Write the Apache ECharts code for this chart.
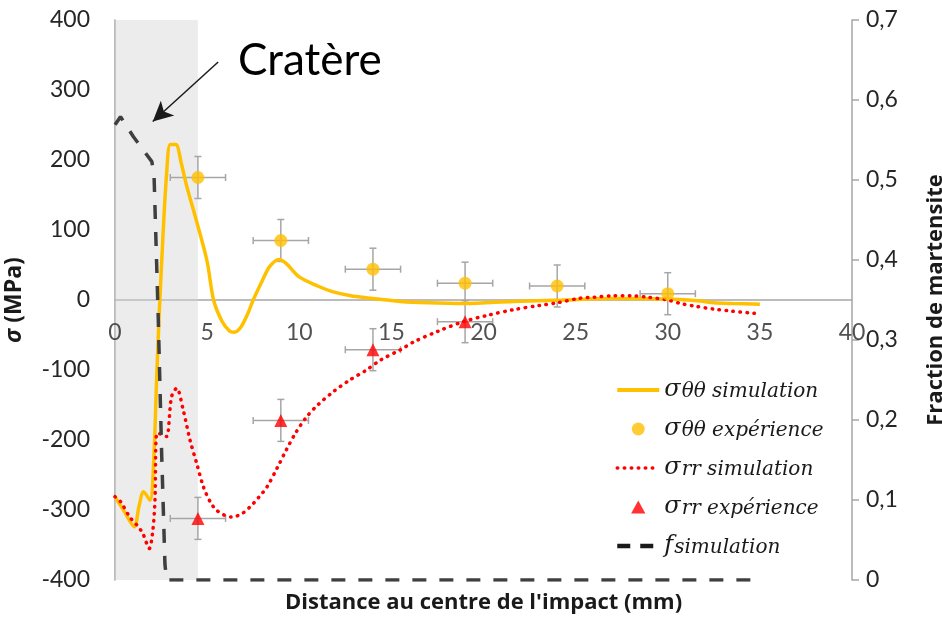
<!DOCTYPE html>
<html>
<head>
<meta charset="utf-8">
<script src="https://cdn.jsdelivr.net/npm/echarts@6/dist/echarts.min.js"></script>
<style>
  html, body { margin: 0; padding: 0; background: #fff; }
  #chart { width: 942px; height: 617px; }
</style>
</head>
<body>
<div id="chart"></div>
<script>
// Hoop stress simulation (MPa) along the distance from the impact centre (mm)
const sttSimX = [0, 0.5, 1.05, 1.3, 1.55, 1.9, 2.1, 2.25, 2.4, 2.6, 2.8, 3.0, 3.3, 3.6, 3.9, 4.4, 5.0, 5.35, 5.8, 6.2, 6.45, 6.8, 7.2, 7.5, 8.0, 8.4, 8.9, 9.3, 10.0, 11.0, 11.8, 12.8, 13.7, 15.5, 17, 19, 21.6, 24.3, 27, 29.8, 31.6, 32.5, 33.5, 35];
const sttSimY = [-281, -302, -324, -295, -274, -286, -230, -120, -20, 90, 180, 222, 222, 195, 162, 115, 55, 0, -30, -44, -46, -40, -20, 0, 28, 48, 58, 52, 33, 20, 12, 6, 3, -2, -4, -5, -2, 0, 2, 1.5, -1, -4, -5, -6];

// Hoop stress measurements with their uncertainties
const sttExpX = [4.5, 9, 14, 19, 24, 30];
const sttExpY = [175, 85, 44, 24, 20, 9];
const sttExpErrX = [1.5, 1.5, 1.5, 1.5, 1.5, 1.5];
const sttExpErrY = [30, 30, 30, 30, 30, 30];

// Radial stress simulation (MPa)
const srrSimX = [0, 0.3, 0.8, 1.2, 1.5, 1.86, 2.05, 2.17, 2.28, 2.55, 2.8, 3.07, 3.35, 3.7, 4.07, 4.43, 4.8, 5.2, 5.5, 5.9, 6.35, 6.9, 7.35, 7.8, 8.25, 8.8, 9.3, 9.8, 10.4, 11.0, 11.85, 12.7, 13.65, 14.4, 15.5, 16.2, 17.5, 18.9, 20.2, 21.6, 23, 24, 25.2, 26, 27, 28, 28.9, 30, 30.7, 31.5, 32.5, 33.5, 34.7];
const srrSimY = [-281, -288, -310, -322, -333, -355, -330, -286, -190, -192, -195, -138, -126, -157, -200, -233, -267, -290, -300, -307, -310, -305, -295, -282, -267, -240, -214, -190, -167, -150, -131, -115, -100, -86, -71, -60, -45, -31, -22, -14, -8, -4, 2.4, 4, 6, 6, 4, 0, -5, -9, -13, -16, -19];

// Radial stress measurements with their uncertainties
const srrExpX = [4.5, 9, 14, 19];
const srrExpY = [-312, -172, -71, -31];
const srrExpErrX = [1.5, 1.5, 1.5, 1.5];
const srrExpErrY = [30, 30, 30, 30];

// Martensite fraction simulation (right axis)
const fSimX = [0, 0.3, 1.0, 2.0, 2.12, 2.35, 2.53, 2.71, 2.8, 35];
const fSimY = [0.569, 0.579, 0.554, 0.523, 0.505, 0.325, 0.16, 0.02, 0, 0];

// Crater zone along the distance axis
const craterFrom = 0;
const craterTo = 4.5;

// Axis ticks
const stressMin = -400, stressMax = 400, stressStep = 100;
const fracMin = 0, fracMax = 0.7, fracStep = 0.1;
const distMin = 0, distMax = 40, distStep = 5;
const distTicks = [0, 5, 10, 15, 20, 25, 30, 35, 40];

const names = ['σθθ simulation', 'σθθ expérience', 'σrr simulation', 'σrr expérience', 'f simulation'];

const ORANGE = '#FFC000';
const RED = '#FF0000';
const BAR = '#A6A6A6';
const FONT = 'Lato';
const TITLE_FONT = 'Open Sans';
const NONE = 'rgba(0,0,0,0)';

const zip = (xs, ys) => xs.map((x, i) => [x, ys[i]]);
const zipErr = (xs, ys, ex, ey) => xs.map((x, i) => [x, ys[i], ex[i], ey[i]]);

function errorBars(api) {
  const x = api.value(0), y = api.value(1), ex = api.value(2), ey = api.value(3);
  const c = api.coord([x, y]);
  const l = api.coord([x - ex, y]);
  const r = api.coord([x + ex, y]);
  const t = api.coord([x, y + ey]);
  const b = api.coord([x, y - ey]);
  const cap = 3.5;
  const style = { stroke: BAR, lineWidth: 1.5 };
  const seg = (x1, y1, x2, y2) => ({ type: 'line', shape: { x1, y1, x2, y2 }, style });
  return {
    type: 'group',
    children: [
      seg(l[0], c[1], r[0], c[1]),
      seg(l[0], c[1] - cap, l[0], c[1] + cap),
      seg(r[0], c[1] - cap, r[0], c[1] + cap),
      seg(c[0], t[1], c[0], b[1]),
      seg(c[0] - cap, t[1], c[0] + cap, t[1]),
      seg(c[0] - cap, b[1], c[0] + cap, b[1])
    ]
  };
}

const legendText = {
  'σθθ simulation': '{s|σ}{sub|θθ simulation}',
  'σθθ expérience': '{s|σ}{sub|θθ expérience}',
  'σrr simulation': '{s|σ}{sub|rr simulation}',
  'σrr expérience': '{s|σ}{sub|rr expérience}',
  'f simulation': '{s|f}{sub|simulation}'
};

const chart = echarts.init(document.getElementById('chart'), null, { renderer: 'canvas' });

chart.setOption({
  animation: false,
  backgroundColor: '#fff',
  textStyle: { fontFamily: FONT },
  grid: { left: 115, right: 90, top: 20, bottom: 37, containLabel: false, outerBoundsMode: 'none' },
  xAxis: {
    type: 'value', min: distMin, max: distMax, interval: distStep,
    axisLine: { onZero: true, onZeroAxisIndex: 0, lineStyle: { color: BAR, width: 1.5 } },
    axisTick: { show: false },
    splitLine: { show: false },
    // tick labels are drawn along the zero line by the 'distance ticks' series
    axisLabel: { show: false }
  },
  yAxis: [
    {
      type: 'value', min: stressMin, max: stressMax, interval: stressStep,
      axisLine: { show: true, onZero: false, lineStyle: { color: BAR, width: 1.5 } },
      axisTick: { show: false },
      splitLine: { show: false },
      axisLabel: { fontSize: 23, color: '#262626', margin: 25, fontFamily: FONT },
      name: '{i|σ} (MPa)',
      nameLocation: 'middle',
      nameRotate: 90,
      nameGap: 89,
      nameTextStyle: {
        fontSize: 23, fontWeight: 'bold', color: '#1a1a1a', fontFamily: TITLE_FONT,
        rich: { i: { fontSize: 23, fontWeight: 'bold', fontStyle: 'italic', color: '#1a1a1a', fontFamily: TITLE_FONT } }
      }
    },
    {
      type: 'value', min: fracMin, max: fracMax, interval: fracStep, position: 'right',
      axisLine: { show: true, onZero: false, lineStyle: { color: BAR, width: 1.5 } },
      axisTick: { show: true, length: 7, lineStyle: { color: BAR, width: 1.5 } },
      splitLine: { show: false },
      axisLabel: {
        fontSize: 23, color: '#262626', margin: 14, fontFamily: FONT,
        formatter: v => (Math.round(v * 10) / 10).toString().replace('.', ',')
      },
      name: 'Fraction de martensite',
      nameLocation: 'middle',
      nameRotate: 90,
      nameGap: 73,
      nameTextStyle: { fontSize: 22, fontWeight: 'bold', color: '#1a1a1a', fontFamily: TITLE_FONT }
    }
  ],
  legend: {
    orient: 'vertical',
    left: 610, top: 371,
    itemWidth: 42, itemHeight: 13, itemGap: 13,
    data: [
      { name: names[0], itemStyle: { color: NONE, borderWidth: 0 }, lineStyle: { color: ORANGE, width: 4, type: 'solid' } },
      { name: names[1] },
      { name: names[2], itemStyle: { color: NONE, borderWidth: 0 }, lineStyle: { color: RED, width: 3.5, type: [0.5, 6.5], cap: 'round' } },
      { name: names[3], icon: 'path://M0,10L5.5,0L11,10Z' },
      { name: names[4], itemStyle: { color: NONE, borderWidth: 0 }, lineStyle: { color: '#1a1a1a', width: 4.5, type: [13, 10] } }
    ],
    formatter: n => legendText[n],
    textStyle: {
      color: '#1a1a1a',
      rich: {
        s: { fontFamily: 'DejaVu Serif', fontStyle: 'italic', fontSize: 24, lineHeight: 24, verticalAlign: 'bottom', color: '#1a1a1a' },
        sub: { fontFamily: 'DejaVu Serif', fontStyle: 'italic', fontSize: 20, lineHeight: 24, verticalAlign: 'bottom', padding: [6, 0, 0, 1], color: '#1a1a1a' }
      }
    }
  },
  graphic: [
    {
      type: 'text', left: 238, top: 39, silent: true,
      style: { text: 'Cratère', fontSize: 44, fontFamily: FONT, fill: '#000' }
    },
    {
      type: 'text', left: 285, top: 592, silent: true,
      style: { text: "Distance au centre de l'impact (mm)", fontSize: 22, fontWeight: 'bold', fontFamily: TITLE_FONT, fill: '#1a1a1a' }
    }
  ],
  series: [
    {
      name: 'errθθ', type: 'custom', renderItem: (p, api) => errorBars(api),
      data: zipErr(sttExpX, sttExpY, sttExpErrX, sttExpErrY),
      encode: { x: 0, y: 1 }, z: 2, silent: true
    },
    {
      name: 'errrr', type: 'custom', renderItem: (p, api) => errorBars(api),
      data: zipErr(srrExpX, srrExpY, srrExpErrX, srrExpErrY),
      encode: { x: 0, y: 1 }, z: 2, silent: true
    },
    {
      name: names[0], type: 'line', data: zip(sttSimX, sttSimY),
      smooth: 0.3, showSymbol: false, symbol: 'none', z: 3,
      lineStyle: { color: ORANGE, width: 3.5 }, itemStyle: { color: ORANGE }
    },
    {
      name: names[2], type: 'line', data: zip(srrSimX, srrSimY),
      smooth: 0.3, showSymbol: false, symbol: 'none', z: 3,
      lineStyle: { color: RED, width: 3.5, type: [0.5, 6.5], cap: 'round' }, itemStyle: { color: RED }
    },
    {
      name: names[4], type: 'line', yAxisIndex: 1, data: zip(fSimX, fSimY),
      showSymbol: false, symbol: 'none', z: 3,
      lineStyle: { color: '#3f3f3f', width: 3.5, type: [14, 13] }, itemStyle: { color: '#1a1a1a' }
    },
    {
      name: names[1], type: 'scatter', data: zip(sttExpX, sttExpY),
      symbol: 'circle', symbolSize: 13, z: 4, itemStyle: { color: ORANGE }
    },
    {
      name: names[3], type: 'scatter', data: zip(srrExpX, srrExpY),
      symbol: 'triangle', symbolSize: 13, z: 4, itemStyle: { color: RED }
    },
    {
      // translucent shading over the crater zone
      name: 'crater', type: 'line', data: [], z: 10, silent: true,
      markArea: {
        silent: true,
        itemStyle: { color: 'rgba(212,212,212,0.45)' },
        data: [[{ xAxis: craterFrom, yAxis: stressMin }, { xAxis: craterTo, yAxis: stressMax }]]
      }
    },
    {
      // arrow pointing to the crater
      name: 'arrow', type: 'line', data: [], z: 11, silent: true,
      markLine: {
        silent: true, symbol: ['none', 'arrow'], symbolSize: [15, 20],
        label: { show: false },
        lineStyle: { color: '#1a1a1a', width: 1.5, type: 'solid' },
        data: [[{ coord: [5.6, 340] }, { coord: [2.05, 255] }]]
      }
    },
    {
      // distance tick labels sitting just under the zero-stress line
      name: 'distance ticks', type: 'scatter', z: 12, silent: true,
      data: distTicks.map(v => [v, 0]),
      symbolSize: 1, itemStyle: { color: NONE },
      label: {
        show: true, position: 'bottom', distance: 21,
        formatter: p => String(p.value[0]),
        fontSize: 23, color: '#262626', fontFamily: FONT
      }
    }
  ]
});
</script>
</body>
</html>
